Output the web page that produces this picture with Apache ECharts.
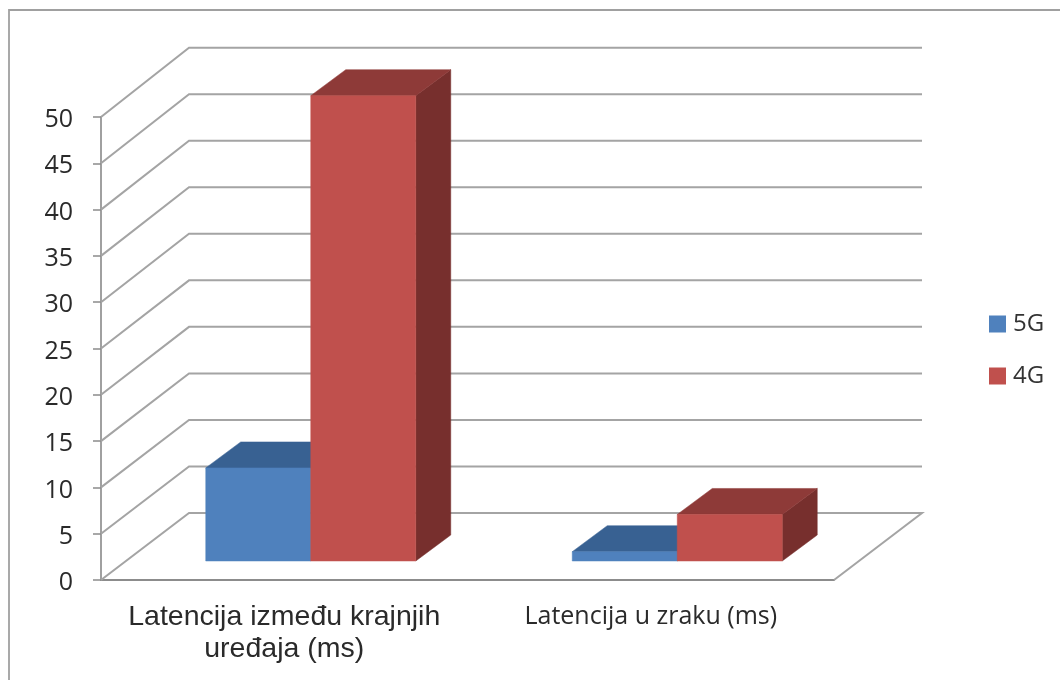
<!DOCTYPE html>
<html><head><meta charset="utf-8">
<style>html,body{margin:0;padding:0;background:#fff}#c{width:1060px;height:680px}</style>
<script src="https://cdn.jsdelivr.net/npm/echarts@6/dist/echarts.min.js"></script>
</head><body><div id="c"></div>
<script>
const categories = ['Latencija između krajnjih\nuređaja (ms)', 'Latencija u zraku (ms)'];
const values5G = [10, 1];
const values4G = [50, 5];
const yTicks = [0, 5, 10, 15, 20, 25, 30, 35, 40, 45, 50];
const seriesNames = ['5G', '4G'];

const wallDX = 88, wallDY = -67;
const barDX = 35, barDY = -26;
const barShiftX = 26.5, barShiftY = -19;
const barWidthRatio = 0.2865;
const depthStretch = 1.005;
const gridColor = '#a4a4a4';

function poly(points, fill) {
  return { type: 'polygon', shape: { points }, style: { fill, stroke: fill, lineWidth: 0.5 } };
}
function renderBar(offsetIndex, front, top, side) {
  return function (params, api) {
    const band = api.size([1, 0])[0];
    const w = band * barWidthRatio;
    const base = api.coord([api.value(0), 0]);
    const head = api.coord([api.value(0), api.value(1)]);
    const h = (base[1] - head[1]) * depthStretch;
    const x0 = base[0] + barShiftX + (offsetIndex - 1) * w;
    const x1 = x0 + w;
    const yb = base[1] + barShiftY;
    const yt = yb - h;
    return {
      type: 'group',
      children: [
        poly([[x1, yb], [x1 + barDX, yb + barDY], [x1 + barDX, yt + barDY], [x1, yt]], side),
        poly([[x0, yt], [x1, yt], [x1 + barDX, yt + barDY], [x0 + barDX, yt + barDY]], top),
        poly([[x0, yb], [x1, yb], [x1, yt], [x0, yt]], front)
      ]
    };
  };
}
function renderWall(params, api) {
  const band = api.size([1, 0])[0];
  const p = api.coord([0, api.value(0)]);
  const zero = api.coord([0, 0]);
  const left = p[0] - band / 2;
  const right = left + band * categories.length;
  const backY = zero[1] + wallDY - (zero[1] - p[1]) * depthStretch;
  const pts = [[left, p[1]], [left + wallDX, backY], [right + wallDX, backY]];
  if (api.value(0) === 0) pts.push([right, p[1]]);
  return { type: 'polyline', shape: { points: pts }, style: { fill: 'none', stroke: gridColor, lineWidth: 2 } };
}

const chart = echarts.init(document.getElementById('c'), null, { renderer: 'canvas' });
chart.setOption({
  animation: false,
  backgroundColor: '#fff',
  graphic: [{
    type: 'rect', silent: true, z: -10,
    shape: { x: 9, y: 10, width: 1100, height: 720 },
    style: { fill: 'none', stroke: '#a0a0a0', lineWidth: 1.8 }
  }],
  grid: { left: 101, right: 226, top: 117, bottom: 100 },
  legend: {
    data: seriesNames, orient: 'vertical', left: 989, top: 312, padding: 0,
    icon: 'rect', itemWidth: 17, itemHeight: 17, itemGap: 28,
    textStyle: { fontFamily: 'Open Sans', fontSize: 24, lineHeight: 24, color: '#333', padding: [0, 0, 0, 2] }
  },
  xAxis: {
    type: 'category', data: categories,
    axisLine: { lineStyle: { color: '#8c8c8c', width: 2 } },
    axisTick: { length: 8, lineStyle: { color: '#8c8c8c', width: 1.5 } },
    axisLabel: {
      margin: 21, interval: 0,
      formatter: (v, i) => i === 0
        ? v.split('\n').map(s => '{a|' + s + '}').join('\n')
        : '{b|' + v + '}',
      rich: {
        a: { fontFamily: 'Liberation Sans', fontSize: 28.5, lineHeight: 32, color: '#2a2a2a' },
        b: { fontFamily: 'Open Sans', fontSize: 25, lineHeight: 32, color: '#2a2a2a' }
      }
    }
  },
  yAxis: {
    type: 'value', min: 0, max: 50, interval: 5,
    splitLine: { show: false },
    axisLine: { show: true, lineStyle: { color: '#a0a0a0', width: 2 } },
    axisTick: { show: true, length: 8, lineStyle: { color: '#8c8c8c', width: 1.5 } },
    axisLabel: { margin: 28, verticalAlign: 'top', padding: [-9.5, 0, 0, 0], fontFamily: 'Open Sans', fontSize: 25, color: '#2a2a2a' }
  },
  series: [
    { type: 'custom', silent: true, z: 1, data: yTicks.map(t => [t]), encode: { y: 0 }, renderItem: renderWall },
    { type: 'custom', name: seriesNames[0], z: 2, itemStyle: { color: '#4f81bd' },
      data: values5G.map((v, i) => [i, v]), encode: { x: 0, y: 1 },
      renderItem: renderBar(0, '#4f81bd', '#386192', '#2f5380') },
    { type: 'custom', name: seriesNames[1], z: 3, itemStyle: { color: '#c0504d' },
      data: values4G.map((v, i) => [i, v]), encode: { x: 0, y: 1 },
      renderItem: renderBar(1, '#c0504d', '#8e3a38', '#772f2d') }
  ]
});
</script></body></html>
